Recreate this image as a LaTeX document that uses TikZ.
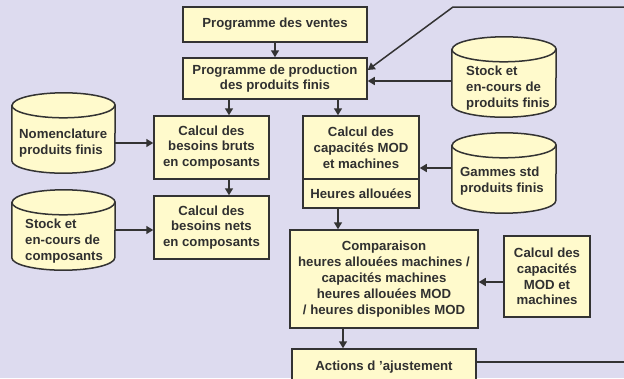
\documentclass[tikz,border=0pt]{standalone}
\usepackage{fontspec}
\setmainfont{Liberation Sans}
\usetikzlibrary{arrows.meta}
\definecolor{bgcol}{HTML}{DDDBEF}
\definecolor{boxfill}{HTML}{FFFACC}
\definecolor{linecol}{HTML}{333333}
\definecolor{textcol}{HTML}{303030}
\newcommand\cylshape[2]{%
  \draw[boxline,fill=boxfill] ([yshift=-12.5pt]#1.north west) -- ([yshift=12.5pt]#1.south west)
    arc[start angle=180,end angle=360,x radius=#2,y radius=12.5pt]
    -- ([yshift=-12.5pt]#1.north east)
    arc[start angle=0,end angle=180,x radius=#2,y radius=12.5pt] -- cycle;
  \draw[boxline] ([yshift=-12.5pt]#1.north west) arc[start angle=180,end angle=360,x radius=#2,y radius=12.5pt];}
\tikzset{
  txt/.style={font=\bfseries\fontsize{13.2}{15.8}\selectfont, text=textcol},
  box/.style={txt, draw=linecol, line width=1.5pt, fill=boxfill, inner sep=1pt, align=center},
  boxline/.style={draw=linecol, line width=1.5pt},
  cylbox/.style={inner sep=0pt, draw=none},
  cyltext/.style={txt, align=left, anchor=west, inner sep=0pt},
  arr/.style={draw=linecol, line width=1.5pt, -{Triangle[length=7pt,width=8pt]}},
  ln/.style={draw=linecol, line width=1.5pt},
}
\begin{document}
\begin{tikzpicture}[x=1pt,y=-1pt]
\useasboundingbox (0,0) rectangle (624,378);
\clip (0,0) rectangle (624,378);
\fill[bgcol] (0,0) rectangle (624,378);

% boxes
\node[box, minimum width=184pt, minimum height=35pt] (ventes) at (275,24.5) {Programme des ventes};
\node[box, minimum width=184pt, minimum height=41pt] (prod) at (275,78.5) {Programme de production\\des produits finis};
\node[box, minimum width=115pt, minimum height=63pt] (brut) at (211.5,147.5) {Calcul des\\besoins bruts\\en composants};
\node[box, minimum width=115pt, minimum height=63pt] (nets) at (211.5,227.5) {Calcul des\\besoins nets\\en composants};
\node[box, minimum width=116pt, minimum height=63pt] (capA) at (361,147.5) {Calcul des\\capacités MOD\\et machines};
\node[box, minimum width=116pt, minimum height=29pt] (capB) at (361,193.5) {Heures allouées};
\node[box, minimum width=188pt, minimum height=98pt] (comp) at (384,279) {Comparaison\\heures allouées machines /\\capacités machines\\heures allouées MOD\\/ heures disponibles MOD};
\node[box, minimum width=86pt, minimum height=81pt] (capR) at (547,276.5) {Calcul des\\capacités\\MOD et\\machines};
\node[box, minimum width=184pt, minimum height=36pt] (actions) at (384,367) {Actions d ’ajustement};

% cylinders
\node[cylbox, minimum width=104pt, minimum height=80pt] (stockpf) at (504,77) {};
\cylshape{stockpf}{52pt}
\node[cyltext] (stockpft) at (466,88) {Stock et\\en-cours de\\produits finis};
\node[cylbox, minimum width=103pt, minimum height=80pt] (nomen) at (63.5,133) {};
\cylshape{nomen}{51.5pt}
\node[cyltext] (noment) at (19,143) {Nomenclature\\produits finis};
\node[cylbox, minimum width=103pt, minimum height=80pt] (stockc) at (63.5,230) {};
\cylshape{stockc}{51.5pt}
\node[cyltext] (stockct) at (25,241) {Stock et\\en-cours de\\composants};
\node[cylbox, minimum width=104pt, minimum height=80pt] (gammes) at (504,173) {};
\cylshape{gammes}{52pt}
\node[cyltext] (gammest) at (460,181) {Gammes std\\produits finis};

% helper coordinates
\coordinate (xl) at (229,0);
\coordinate (xr) at (338,0);
\coordinate (xc) at (343,0);
\coordinate (tr) at (624,7);
\coordinate (tb) at (453,7);
\coordinate (br) at (624,362);

% connectors
\draw[arr] (ventes.south -| prod.north) -- (prod.north);
\draw[arr] (prod.south -| xl) -- (brut.north -| xl);
\draw[arr] (brut.south -| xl) -- (nets.north -| xl);
\draw[arr] (prod.south -| xr) -- (capA.north -| xr);
\draw[arr] (capB.south -| xr) -- (comp.north -| xr);
\draw[arr] (comp.south -| xc) -- (actions.north -| xc);
\draw[arr] (noment.east -| nomen.east) -- (noment.east -| brut.west);
\draw[arr] (stockc.east) -- (stockc.east -| nets.west);
\draw[arr] ([yshift=-2.5pt]prod.east -| stockpf.west) -- ([yshift=-2.5pt]prod.east);
\draw[arr] ([yshift=5pt]gammes.west) -- ([yshift=5pt]gammes.west -| capA.east);
\draw[arr] ([yshift=-5.5pt]capR.west) -- ([yshift=-5.5pt]capR.west -| comp.east);
\draw[arr] (tr) -- (tb) -- ([yshift=8.5pt]prod.east);
\draw[ln] ([yshift=5pt]actions.east) -- (br);
\end{tikzpicture}
\end{document}
